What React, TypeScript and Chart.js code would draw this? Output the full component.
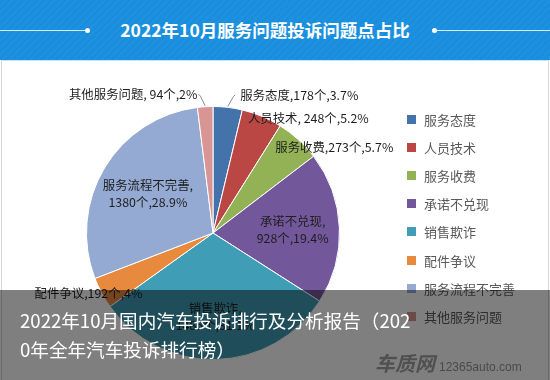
import React, { useEffect, useRef } from "react";
import { Chart, registerables } from "chart.js";

Chart.register(...registerables);

const categories = ["服务态度", "人员技术", "服务收费", "承诺不兑现", "销售欺诈", "配件争议", "服务流程不完善", "其他服务问题"];
const counts = [178, 248, 273, 928, 1485, 192, 1380, 94];
const percentLabels = ["3.7%", "5.2%", "5.7%", "19.4%", "31.1%", "4%", "28.9%", "2%"];
const labelTexts = [
  ["服务态度,178个,3.7%"],
  ["人员技术, 248个,5.2%"],
  ["服务收费,273个,5.7%"],
  ["承诺不兑现,", "928个,19.4%"],
  ["销售欺诈,", "1485个,31.1%"],
  ["配件争议,192个,4%"],
  ["服务流程不完善,", "1380个,28.9%"],
  ["其他服务问题, 94个,2%"],
];
const colors = ["#4472AA", "#BB4744", "#93B255", "#72589B", "#3F9DB5", "#E88A3E", "#94AAD3", "#D89593"];

const titleText = "2022年10月服务问题投诉问题点占比";
const captionLines = ["2022年10月国内汽车投诉排行及分析报告（202", "0年全年汽车投诉排行榜）"];

// label placement relative to arc (mode, radius factor, dx, dy, align)
const placement: any[] = [
  { mode: "out", rf: 1.1, dx: 11, dy: 0, align: "left", leader: true },
  { mode: "out", rf: 1.0, dx: -14, dy: 2, align: "left", leader: false },
  { mode: "out", rf: 1.0, dx: -23, dy: 8, align: "left", leader: false },
  { mode: "in", rf: 0.63, dx: 0, dy: 0 },
  { mode: "in", rf: 0.66, dx: 0, dy: 0 },
  { mode: "out", rf: 1.0, dx: -67, dy: 0, align: "left", leader: false },
  { mode: "in", rf: 0.6, dx: 0, dy: 0 },
  { mode: "out", rf: 1.1, dx: -7, dy: 0, align: "right", leader: true },
];

const FONT = '"Microsoft YaHei", "Noto Sans CJK SC", sans-serif';

const labelPlugin = {
  id: "sliceLabels",
  afterDatasetsDraw(chart: any) {
    const ctx = chart.ctx;
    const meta = chart.getDatasetMeta(0);
    ctx.save();
    ctx.font = `12.4px ${FONT}`;
    ctx.fillStyle = "#1e1e1e";
    ctx.textBaseline = "middle";
    meta.data.forEach((arc: any, i: number) => {
      const p = placement[i];
      const mid = (arc.startAngle + arc.endAngle) / 2;
      const r = arc.outerRadius;
      const cx = arc.x, cy = arc.y;
      const ax = cx + Math.cos(mid) * r * p.rf;
      const ay = cy + Math.sin(mid) * r * p.rf;
      const lines = labelTexts[i];
      if (p.mode === "in") {
        ctx.textAlign = "center";
        const lh = 17;
        lines.forEach((t: string, j: number) => {
          ctx.fillText(t, ax + p.dx, ay + p.dy + (j - (lines.length - 1) / 2) * lh);
        });
      } else {
        if (p.leader) {
          const ex = cx + Math.cos(mid) * (r + 1);
          const ey = cy + Math.sin(mid) * (r + 1);
          ctx.strokeStyle = "#8c8c8c";
          ctx.lineWidth = 1;
          ctx.beginPath();
          ctx.moveTo(ex, ey);
          ctx.lineTo(ax + (p.align === "left" ? 4 : -4), ay + 2);
          ctx.lineTo(ax + (p.align === "left" ? 6 : -6), ay);
          ctx.stroke();
        }
        ctx.textAlign = p.align;
        ctx.fillText(lines[0], ax + p.dx, ay + p.dy);
      }
    });
    ctx.restore();
  },
};

function App() {
  const ref = useRef<HTMLCanvasElement | null>(null);
  useEffect(() => {
    if (!ref.current) return;
    const chart = new Chart(ref.current, {
      type: "pie",
      data: {
        labels: categories,
        datasets: [
          {
            data: counts,
            backgroundColor: colors,
            borderColor: "#ffffff",
            borderWidth: 1,
          },
        ],
      },
      options: {
        responsive: false,
        animation: false,
        rotation: 0,
        layout: { padding: { left: 86, right: 210, top: 106, bottom: 20 } },
        plugins: {
          legend: { display: false },
          tooltip: { enabled: false },
        },
      },
      plugins: [labelPlugin],
    });
    return () => chart.destroy();
  }, []);

  return (
    <div style={{ position: "fixed", left: 0, top: 0, width: 550, height: 380, overflow: "hidden", background: "#fff", fontFamily: FONT }}>
      <div style={{ position: "absolute", left: 1, top: 60, width: 546, height: 320, borderLeft: "1px solid #d6d6d6", borderRight: "1px solid #d6d6d6", borderTop: "1px solid #bfe6f7" }} />
      <canvas ref={ref} width={550} height={380} style={{ position: "absolute", left: 0, top: 0, width: 550, height: 380 }} />
      {/* banner */}
      <div
        style={{
          position: "absolute", left: 0, top: 0, width: 550, height: 60,
          background: "repeating-linear-gradient(135deg, #1a8edd 0px, #1a8edd 3px, #1d92e0 3px, #1d92e0 5px)",
        }}
      >
        <div style={{ position: "absolute", left: 0, top: 30, width: 87, height: 1, background: "#d5ecfb" }} />
        <div style={{ position: "absolute", left: 85, top: 28, width: 5, height: 5, borderRadius: 3, background: "#ffffff" }} />
        <div style={{ position: "absolute", left: 432, top: 28, width: 5, height: 5, borderRadius: 3, background: "#ffffff" }} />
        <div style={{ position: "absolute", left: 435, top: 30, width: 115, height: 1, background: "#d5ecfb" }} />
        <div style={{ position: "absolute", left: 100, top: 0, width: 330, height: 60, lineHeight: "60px", textAlign: "center", color: "#fff", fontWeight: "bold", fontSize: 17.5, whiteSpace: "nowrap" }}>
          {titleText}
        </div>
      </div>
      {/* legend */}
      {categories.map((c, i) => (
        <div key={c} style={{ position: "absolute", left: 407, top: 119 + i * 28.2 - 10, height: 20, display: "flex", alignItems: "center" }}>
          <div style={{ width: 9, height: 9, background: colors[i], marginRight: 8 }} />
          <span style={{ fontSize: 13, color: "#595959", whiteSpace: "nowrap" }}>{c}</span>
        </div>
      ))}
      {/* caption overlay */}
      <div style={{ position: "absolute", left: 0, top: 290, width: 550, height: 90, background: "rgba(0,0,0,0.5)" }}>
        {captionLines.map((t, i) => (
          <div key={i} style={{ position: "absolute", left: 20, top: 16 + i * 29, height: 28, lineHeight: "28px", color: "#fff", fontSize: 18.6, whiteSpace: "nowrap" }}>
            {t}
          </div>
        ))}
        <div style={{ position: "absolute", left: 375, top: 60, height: 26, lineHeight: "26px", whiteSpace: "nowrap" }}>
          <span style={{ fontSize: 20, fontWeight: "bold", color: "#505050", fontStyle: "italic" }}>车质网</span>
          <span style={{ fontSize: 12, color: "#4a4a4a", marginLeft: 4, fontFamily: "Arial, Liberation Sans, sans-serif" }}>12365auto.com</span>
        </div>
      </div>
    </div>
  );
}

export default App;
